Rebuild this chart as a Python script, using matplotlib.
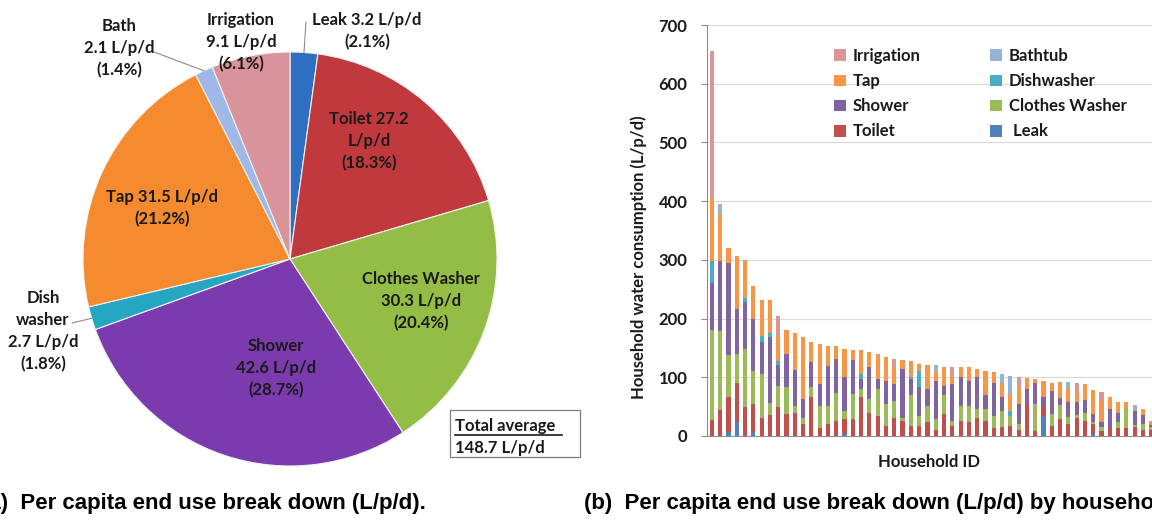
import matplotlib
matplotlib.use("Agg")
import matplotlib.pyplot as plt
from matplotlib.patches import Rectangle
from matplotlib.lines import Line2D
from matplotlib.transforms import Affine2D
import numpy as np

W, H = 1152, 528

# ---------------- Pie data (a) ----------------
pie_names = ["Leak", "Toilet", "Clothes Washer", "Shower", "Dish washer", "Tap", "Bath", "Irrigation"]
pie_values = [3.2, 27.2, 30.3, 42.6, 2.7, 31.5, 2.1, 9.1]
pie_pct = [2.1, 18.3, 20.4, 28.7, 1.8, 21.2, 1.4, 6.1]
pie_colors = ["#2F6FC1", "#C0393C", "#94BD45", "#7B3AAE", "#27A6C3", "#F58A2E", "#9FB8E8", "#D9939A"]

# ---------------- Stacked bar data (b) ----------------
leak = [0, 0, 6, 23, 0, 6, 0, 0, 0, 0, 0, 0, 0, 0, 0, 0, 3, 0, 0, 0,
        0, 0, 0, 0, 0, 0, 0, 0, 0, 0, 0, 0, 0, 0, 0, 0, 0, 0, 0, 0,
        34, 0, 0, 0, 0, 0, 4, 0, 0, 0, 0, 0, 0, 0]
toilet = [27, 45, 60, 67, 50, 48, 30, 35, 50, 37, 40, 21, 66, 14, 20, 26, 26, 29, 66, 40,
          34, 17, 31, 26, 17, 17, 23, 11, 37, 17, 26, 23, 31, 26, 14, 15, 17, 11, 54, 9,
          17, 17, 29, 20, 30, 26, 16, 9, 14, 14, 14, 15, 11, 10]
clothes_washer = [154, 134, 72, 50, 99, 56, 75, 21, 35, 46, 11, 10, 17, 37, 31, 48, 14, 42, 14, 23,
                  46, 37, 29, 5, 52, 17, 28, 18, 32, 9, 25, 28, 15, 20, 20, 28, 17, 9, 0, 45,
                  0, 20, 23, 12, 6, 14, 4, 6, 0, 9, 32, 3, 9, 5]
shower = [80, 119, 157, 77, 80, 90, 55, 113, 36, 57, 62, 32, 43, 38, 69, 57, 58, 58, 17, 54,
          17, 40, 29, 83, 28, 49, 29, 65, 17, 63, 50, 43, 54, 23, 57, 23, 0, 34, 26, 37,
          15, 40, 12, 26, 22, 21, 14, 9, 32, 17, 0, 24, 15, 4]
dishwasher = [37, 0, 0, 0, 6, 0, 10, 6, 6, 0, 0, 0, 0, 0, 0, 0, 0, 0, 9, 0,
              0, 0, 0, 0, 4, 28, 0, 0, 0, 0, 0, 0, 0, 0, 0, 0, 9, 0, 0, 0,
              0, 0, 0, 0, 0, 0, 0, 0, 0, 0, 0, 0, 0, 0]
tap = [107, 80, 26, 90, 65, 56, 62, 56, 44, 40, 62, 106, 34, 68, 33, 22, 48, 18, 40, 26,
       43, 41, 29, 15, 26, 12, 41, 17, 32, 11, 16, 23, 14, 41, 18, 25, 28, 28, 18, 6,
       28, 14, 28, 23, 17, 27, 41, 37, 20, 18, 12, 2, 11, 7]
bathtub = [0, 17, 0, 0, 0, 0, 0, 0, 0, 0, 0, 0, 0, 0, 0, 0, 0, 0, 0, 0,
           0, 0, 0, 0, 0, 0, 0, 10, 0, 0, 0, 0, 0, 0, 0, 14, 32, 0, 0, 0,
           0, 0, 0, 11, 0, 0, 0, 0, 0, 0, 0, 8, 0, 0]
irrigation = [250, 0, 0, 0, 0, 0, 0, 0, 34, 0, 0, 0, 0, 0, 0, 0, 0, 0, 0, 0,
              0, 0, 13, 0, 0, 0, 0, 0, 0, 17, 0, 0, 0, 0, 0, 0, 0, 18, 0, 0,
              0, 0, 0, 0, 15, 0, 0, 14, 0, 0, 0, 0, 0, 0]

stack_names = ["Leak", "Toilet", "Clothes Washer", "Shower", "Dishwasher", "Tap", "Bathtub", "Irrigation"]
stack_values = [leak, toilet, clothes_washer, shower, dishwasher, tap, bathtub, irrigation]
stack_colors = ["#4F81BD", "#C0504D", "#9BBB59", "#8064A2", "#4BACC6", "#F79646", "#95B3D7", "#D99694"]
legend_order = ["Irrigation", "Tap", "Shower", "Toilet", "Bathtub", "Dishwasher", "Clothes Washer", "Leak"]

y_ticks = [0, 100, 200, 300, 400, 500, 600, 700]

FONT = ["Lato", "DejaVu Sans"]
plt.rcParams["font.family"] = FONT

fig = plt.figure(figsize=(W / 100, H / 100), dpi=100)
pix = Affine2D().scale(1 / W, -1 / H).translate(0, 1) + fig.transFigure

# ================= (a) pie =================
ax1 = fig.add_axes([83 / W, 1 - 466 / H, 414 / W, 414 / H])
wedges, _ = ax1.pie(pie_values, colors=pie_colors, startangle=90, counterclock=False,
                    wedgeprops=dict(edgecolor="#f2f2f2", linewidth=0.8))
ax1.set_xlim(-1, 1)
ax1.set_ylim(-1, 1)
ax1.set_aspect("equal")
ax1.axis("off")

label_tpl = ["{n} {v} L/p/d\n({p}%)",
             "{n} {v}\nL/p/d\n({p}%)",
             "{n}\n{v} L/p/d\n({p}%)",
             "{n}\n{v} L/p/d\n({p}%)",
             "Dish\nwasher\n{v} L/p/d\n({p}%)",
             "{n} {v} L/p/d\n({p}%)",
             "{n}\n{v} L/p/d\n({p}%)",
             "{n}\n{v} L/p/d\n({p}%)"]
label_pos = [(367, 31), (369, 141), (421, 301), (276, 368), (43, 331), (162, 208), (119, 48), (241, 42)]
FS = 12
for name, v, p, tpl, pos in zip(pie_names, pie_values, pie_pct, label_tpl, label_pos):
    fig.text(pos[0], pos[1], tpl.format(n=name, v=v, p=p), transform=pix, ha="center", va="center",
             fontsize=FS, fontweight="bold", color="#1a1a1a", linespacing=1.45, multialignment="center")

# leader lines for small slices
leader_start = {"Leak": (306, 22), "Bath": (154, 52), "Dish washer": (72, 323)}
for w, name in zip(wedges, pie_names):
    if name in leader_start:
        mid = np.deg2rad((w.theta1 + w.theta2) / 2)
        ax1.annotate("", xy=(np.cos(mid), np.sin(mid)), xycoords="data",
                     xytext=leader_start[name], textcoords=pix,
                     arrowprops=dict(arrowstyle="-", color="#8c8c8c", lw=0.8,
                                     shrinkA=0, shrinkB=0))

# total average box
total = sum(pie_values)
fig.add_artist(Rectangle((450, 410), 130, 47, transform=pix, fill=False, edgecolor="#7f7f7f", lw=0.9))
fig.text(455, 426, "Total average", transform=pix, ha="left", va="center", fontsize=FS,
         fontweight="bold", color="#1a1a1a")
fig.add_artist(Line2D([455, 562], [435, 435], transform=pix, color="#1a1a1a", lw=1.2))
fig.text(455, 448, f"{total:.1f} L/p/d", transform=pix, ha="left", va="center", fontsize=FS,
         fontweight="bold", color="#1a1a1a")

# ================= (b) stacked bars =================
ax2 = fig.add_axes([707 / W, 1 - 436 / H, 445 / W, 411 / H])
n = len(toilet)
x = np.arange(n)
bottom = np.zeros(n)
handles = {}
for name, vals, col in zip(stack_names, stack_values, stack_colors):
    vals = np.array(vals, dtype=float)
    b = ax2.bar(x, vals, 0.5, bottom=bottom, color=col, linewidth=0, label=name)
    handles[name] = b
    bottom += vals

ax2.set_xlim(-0.6, n - 1 + 0.1)
ax2.set_ylim(0, 700)
ax2.set_yticks(y_ticks)
ax2.set_xticks([])
ax2.yaxis.grid(True, color="#d9d9d9", lw=0.8)
ax2.set_axisbelow(True)
for s in ["top", "right"]:
    ax2.spines[s].set_visible(False)
ax2.spines["left"].set_color("#8c8c8c")
ax2.spines["bottom"].set_color("#8c8c8c")
ax2.tick_params(axis="y", length=4, color="#8c8c8c", pad=10, labelsize=FS, labelcolor="#1a1a1a")
for t in ax2.get_yticklabels():
    t.set_fontweight("bold")

ax2.set_ylabel("Household water consumption (L/p/d)", fontsize=FS, fontweight="bold", color="#1a1a1a")
ax2.yaxis.set_label_coords((647 - 707) / 445, (436 - 257) / 411)
ax2.set_xlabel("Household ID", fontsize=FS, fontweight="bold", color="#1a1a1a")
ax2.xaxis.set_label_coords(0.5, -(454 - 436) / 411)

leg_labels = [(" Leak" if nm == "Leak" else nm) for nm in legend_order]
leg = ax2.legend([handles[nm] for nm in legend_order], leg_labels, ncol=2, frameon=False,
                 loc="upper left", bbox_to_anchor=(834, 48), bbox_transform=pix,
                 borderpad=0, borderaxespad=0, handlelength=0.7, handleheight=0.7,
                 handletextpad=0.4, labelspacing=0.55, columnspacing=4.2,
                 prop=dict(family=FONT, weight="bold", size=FS))
for t in leg.get_texts():
    t.set_color("#1a1a1a")

# ================= captions =================
CAP = ["Liberation Sans Narrow", "Liberation Sans", "DejaVu Sans"]
fig.text(426, 503, "(a)  Per capita end use break down (L/p/d).", transform=pix, ha="right",
         va="center", fontsize=16, fontweight="bold", family=CAP, color="black")
fig.text(584, 503, "(b)  Per capita end use break down (L/p/d) by household", transform=pix,
         ha="left", va="center", fontsize=16, fontweight="bold", family=CAP, color="black")

fig.savefig("out.png", dpi=100)
